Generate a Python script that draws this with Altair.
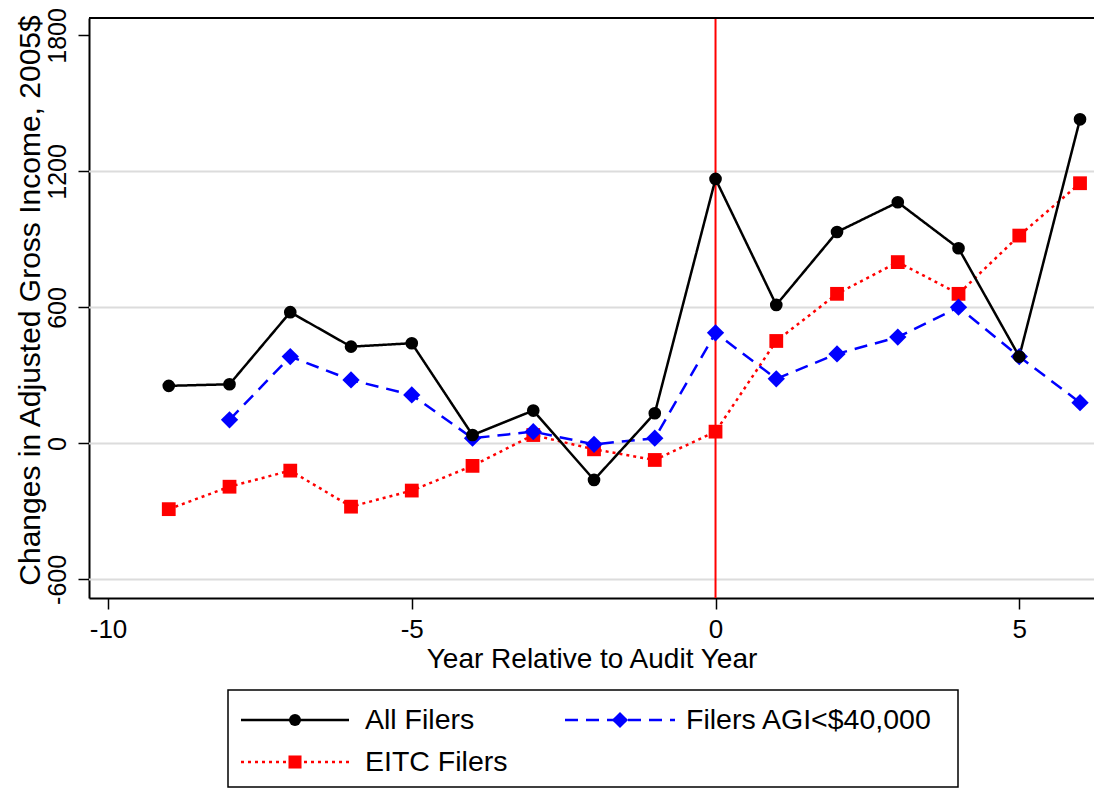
import altair as alt
import pandas as pd

# ---- data ----
years_all = [-9, -8, -7, -6, -5, -4, -3, -2, -1, 0, 1, 2, 3, 4, 5, 6]
all_filers = [254, 261, 579, 427, 442, 37, 145, -161, 133, 1167, 611, 933, 1064, 861, 383, 1430]

years_agi = [-8, -7, -6, -5, -4, -3, -2, -1, 0, 1, 2, 3, 4, 5, 6]
agi_filers = [104, 383, 280, 214, 23, 52, -4, 23, 488, 285, 395, 469, 601, 383, 180]

years_eitc = [-9, -8, -7, -6, -5, -4, -3, -2, -1, 0, 1, 2, 3, 4, 5, 6]
eitc_filers = [-290, -191, -120, -279, -208, -99, 37, -26, -73, 52, 452, 660, 800, 660, 917, 1148]

grid_values = [-600, 0, 600, 1200]
y_ticks = [-600, 0, 600, 1200, 1800]
x_ticks = [-10, -5, 0, 5]
audit_year = [0]

FONT = "Liberation Sans"
W, H = 1005, 580

df_all = pd.DataFrame({"x": years_all, "y": all_filers})
df_agi = pd.DataFrame({"x": years_agi, "y": agi_filers})
df_eitc = pd.DataFrame({"x": years_eitc, "y": eitc_filers})
df_grid = pd.DataFrame({"y": grid_values})
df_vline = pd.DataFrame({"x": audit_year})
one = pd.DataFrame({"k": [0]})

xscale = alt.Scale(domain=[-10.313, 6.23], nice=False, zero=False)
yscale = alt.Scale(domain=[-682, 1877], nice=False, zero=False)

xaxis = alt.Axis(values=x_ticks, title="Year Relative to Audit Year", grid=False,
                 labelExpr="'' + datum.value",
                 domainColor="black", domainWidth=2, tickColor="black",
                 tickWidth=1.5, tickSize=11, labelFontSize=26, labelPadding=7,
                 labelFont=FONT, labelColor="black", titleFont=FONT,
                 titleFontSize=28, titleFontWeight="normal", titleColor="black",
                 titlePadding=3)
yaxis = alt.Axis(values=y_ticks, title="Changes in Adjusted Gross Income, 2005$",
                 labelExpr="'' + datum.value",
                 grid=False, domainColor="black", domainWidth=2, tickColor="black",
                 tickWidth=1.5, tickSize=11, labelFontSize=25, labelPadding=13,
                 labelAngle=270, labelAlign="center", labelBaseline="alphabetic",
                 labelFont=FONT, labelColor="black", titleFont=FONT,
                 titleFontSize=30, titleFontWeight="normal", titleColor="black",
                 titleAngle=270, titleAlign="center", titleBaseline="alphabetic",
                 titleX=-50, titleY=282)


def X():
    return alt.X("x:Q", scale=xscale, axis=xaxis)


def Y():
    return alt.Y("y:Q", scale=yscale, axis=yaxis)


base_axes = alt.Chart(df_all).mark_point(opacity=0).encode(x=X(), y=Y())

grid = alt.Chart(df_grid).mark_rule(color="#dcdcdc", strokeWidth=2).encode(y=Y())

vline = alt.Chart(df_vline).mark_rule(color="red", strokeWidth=2).encode(x=X())

top_border = alt.Chart(one).mark_rule(color="black", strokeWidth=2).encode(
    x=alt.value(0), x2=alt.value(W), y=alt.value(0))


def series(df, color, dash, shape, size, width):
    line = alt.Chart(df).mark_line(color=color, strokeWidth=width, strokeDash=dash).encode(
        x=X(), y=Y())
    pts = alt.Chart(df).mark_point(color=color, filled=True, opacity=1, shape=shape,
                                   size=size, strokeWidth=0).encode(x=X(), y=Y())
    return line, pts


l_all, p_all = series(df_all, "black", [1, 0], "circle", 160, 2.5)
l_agi, p_agi = series(df_agi, "blue", [13, 8], "diamond", 300, 2.5)
l_eitc, p_eitc = series(df_eitc, "red", [3, 4], "square", 190, 2.5)

# ---- legend (drawn below the plot area) ----
legend_box = alt.Chart(one).mark_rect(fill="white", stroke="black", strokeWidth=1.5).encode(
    x=alt.value(139), x2=alt.value(869), y=alt.value(672), y2=alt.value(769))


def legend_item(x0, x1, ym, color, dash, shape, size, width, label, tx):
    ln = alt.Chart(one).mark_rule(color=color, strokeWidth=width, strokeDash=dash).encode(
        x=alt.value(x0), x2=alt.value(x1), y=alt.value(ym))
    pt = alt.Chart(one).mark_point(color=color, filled=True, opacity=1, shape=shape,
                                   size=size, strokeWidth=0).encode(
        x=alt.value((x0 + x1) / 2), y=alt.value(ym))
    tt = alt.Chart(one).mark_text(align="left", baseline="middle", font=FONT, fontSize=28.5,
                                  color="black").encode(
        x=alt.value(tx), y=alt.value(ym), text=alt.value(label))
    return [ln, pt, tt]


leg = []
leg += legend_item(152, 260, 702, "black", [1, 0], "circle", 144, 2.5, "All Filers", 276)
leg += legend_item(476, 586, 702, "blue", [13, 8], "diamond", 260, 2.5, "Filers AGI<$40,000", 597)
leg += legend_item(152, 260, 744, "red", [3, 4], "square", 170, 2.5, "EITC Filers", 276)

chart = alt.layer(
    base_axes, grid, vline, l_eitc, l_agi, l_all, p_eitc, p_agi, p_all, top_border,
    legend_box, *leg
).properties(
    width=W, height=H,
    padding={"left": 89, "top": 18, "right": 0, "bottom": 190},
    autosize=alt.AutoSizeParams(type="none"),
    background="white",
).configure_view(stroke=None)

chart.save("out.html", embed_options={"renderer": "svg", "actions": False})
